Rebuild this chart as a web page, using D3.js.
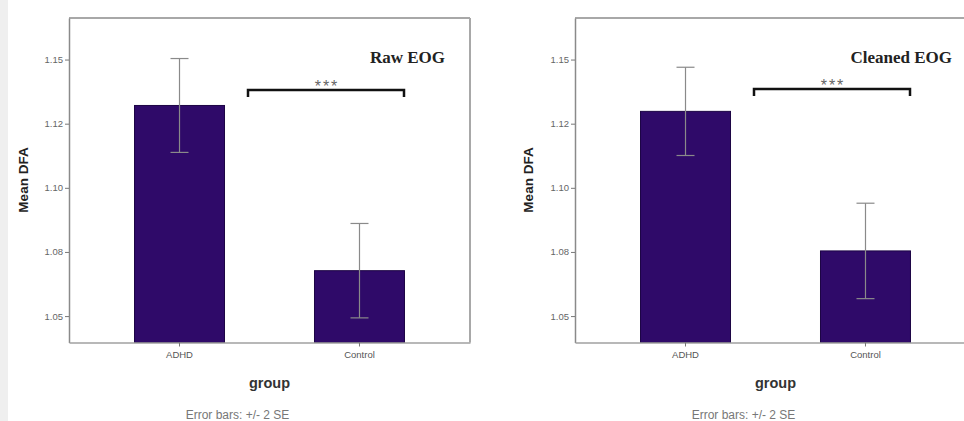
<!DOCTYPE html>
<html><head><meta charset="utf-8">
<script src="https://cdn.jsdelivr.net/npm/d3@7"></script>
<style>body{margin:0;background:#fff;} svg{display:block;}</style>
</head><body>
<script>
const categories = ["ADHD", "Control"];
const panelTitles = ["Raw EOG", "Cleaned EOG"];
const rawMeans = [1.1321, 1.0677];
const rawErrors = [0.0183, 0.0184];
const cleanedMeans = [1.1298, 1.0754];
const cleanedErrors = [0.0172, 0.0186];
const tickValues = [1.05, 1.075, 1.10, 1.125, 1.15];
const tickLabels = ["1.05", "1.08", "1.10", "1.12", "1.15"];
const sigLabel = "***";

const W = 964, H = 421;
const svg = d3.select("body").append("svg").attr("width", W).attr("height", H);
svg.append("rect").attr("width", W).attr("height", H).attr("fill", "#fff");
svg.append("rect").attr("width", 8).attr("height", H).attr("fill", "#efefef");

const panels = [
  {x0: 69, means: rawMeans, errs: rawErrors, title: panelTitles[0], yLabelX: 28, titleX: 445, brY: 90},
  {x0: 575, means: cleanedMeans, errs: cleanedErrors, title: panelTitles[1], yLabelX: 533, titleX: 952, brY: 89}
];
const pw = 401, plotTop = 18, plotBottom = 342.5;
const y = d3.scaleLinear().domain([1.0397, 1.1662]).range([plotBottom, plotTop]);
const sans = "Arial, Liberation Sans, sans-serif";

panels.forEach(p => {
  const g = svg.append("g");
  const x = d3.scaleBand().domain(categories).range([p.x0, p.x0 + pw]).paddingInner(0.5).paddingOuter(0.364);
  // frame
  g.append("line").attr("x1", p.x0).attr("x2", p.x0 + pw).attr("y1", plotTop).attr("y2", plotTop)
    .attr("stroke", "#a8a8a8").attr("stroke-width", 2);
  g.append("line").attr("x1", p.x0 + pw).attr("x2", p.x0 + pw).attr("y1", plotTop).attr("y2", plotBottom)
    .attr("stroke", "#a8a8a8").attr("stroke-width", 2);
  // bars
  g.selectAll("rect.bar").data(categories).enter().append("rect")
    .attr("x", d => x(d)).attr("width", x.bandwidth())
    .attr("y", (d, i) => y(p.means[i])).attr("height", (d, i) => plotBottom - y(p.means[i]))
    .attr("fill", "#2f0a69").attr("stroke", "#1d0545").attr("stroke-width", 1);
  // error bars
  categories.forEach((c, i) => {
    const cx = x(c) + x.bandwidth() / 2;
    const hi = y(p.means[i] + p.errs[i]), lo = y(p.means[i] - p.errs[i]);
    g.append("line").attr("x1", cx).attr("x2", cx).attr("y1", hi).attr("y2", lo).attr("stroke", "#8a8a8a").attr("stroke-width", 1.2);
    [hi, lo].forEach(v => g.append("line").attr("x1", cx - 9).attr("x2", cx + 9).attr("y1", v).attr("y2", v).attr("stroke", "#8a8a8a").attr("stroke-width", 1.2));
  });
  // y axis
  const ya = g.append("g").attr("transform", `translate(${p.x0},0)`)
    .call(d3.axisLeft(y).tickValues(tickValues).tickFormat((d, i) => tickLabels[i]).tickSize(4).tickSizeOuter(0).tickPadding(2));
  ya.select(".domain").attr("stroke", "#8a8a8a").attr("stroke-width", 1.5);
  ya.selectAll(".tick line").attr("stroke", "#777");
  ya.selectAll("text").attr("font-family", sans).attr("font-size", 9.5).attr("fill", "#666");
  // x axis
  const xa = g.append("g").attr("transform", `translate(0,${plotBottom})`)
    .call(d3.axisBottom(x).tickSize(4).tickSizeOuter(0).tickPadding(5));
  xa.select(".domain").attr("stroke", "#a0a0a0").attr("stroke-width", 1.5);
  xa.selectAll(".tick line").attr("stroke", "#777");
  xa.selectAll("text").attr("font-family", sans).attr("font-size", 9.5).attr("fill", "#555");
  // labels
  g.append("text").attr("transform", `translate(${p.yLabelX},180) rotate(-90)`).attr("text-anchor", "middle")
    .attr("font-family", sans).attr("font-weight", "bold").attr("font-size", 13.5).attr("fill", "#222").text("Mean DFA");
  g.append("text").attr("x", p.x0 + pw / 2).attr("y", 388).attr("text-anchor", "middle")
    .attr("font-family", sans).attr("font-weight", "bold").attr("font-size", 14.5).attr("fill", "#333").text("group");
  g.append("text").attr("x", p.x0 + pw / 2 - 32).attr("y", 419).attr("text-anchor", "middle")
    .attr("font-family", sans).attr("font-size", 12).attr("fill", "#777").text("Error bars: +/- 2 SE");
  g.append("text").attr("x", p.titleX).attr("y", 63).attr("text-anchor", "end")
    .attr("font-family", "Liberation Serif, Times New Roman, serif").attr("font-weight", "bold").attr("font-size", 17).attr("fill", "#222").text(p.title);
  // significance bracket
  const bx1 = p.x0 + 179, bx2 = p.x0 + 335;
  g.append("path").attr("d", `M${bx1},${p.brY + 7}V${p.brY}H${bx2}V${p.brY + 7}`)
    .attr("fill", "none").attr("stroke", "#111").attr("stroke-width", 2.5);
  g.append("text").attr("x", (bx1 + bx2) / 2 + 1).attr("y", p.brY + 2).attr("text-anchor", "middle")
    .attr("font-family", sans).attr("font-size", 16).attr("letter-spacing", 2).attr("fill", "#666").text(sigLabel);
});
</script>
</body></html>
